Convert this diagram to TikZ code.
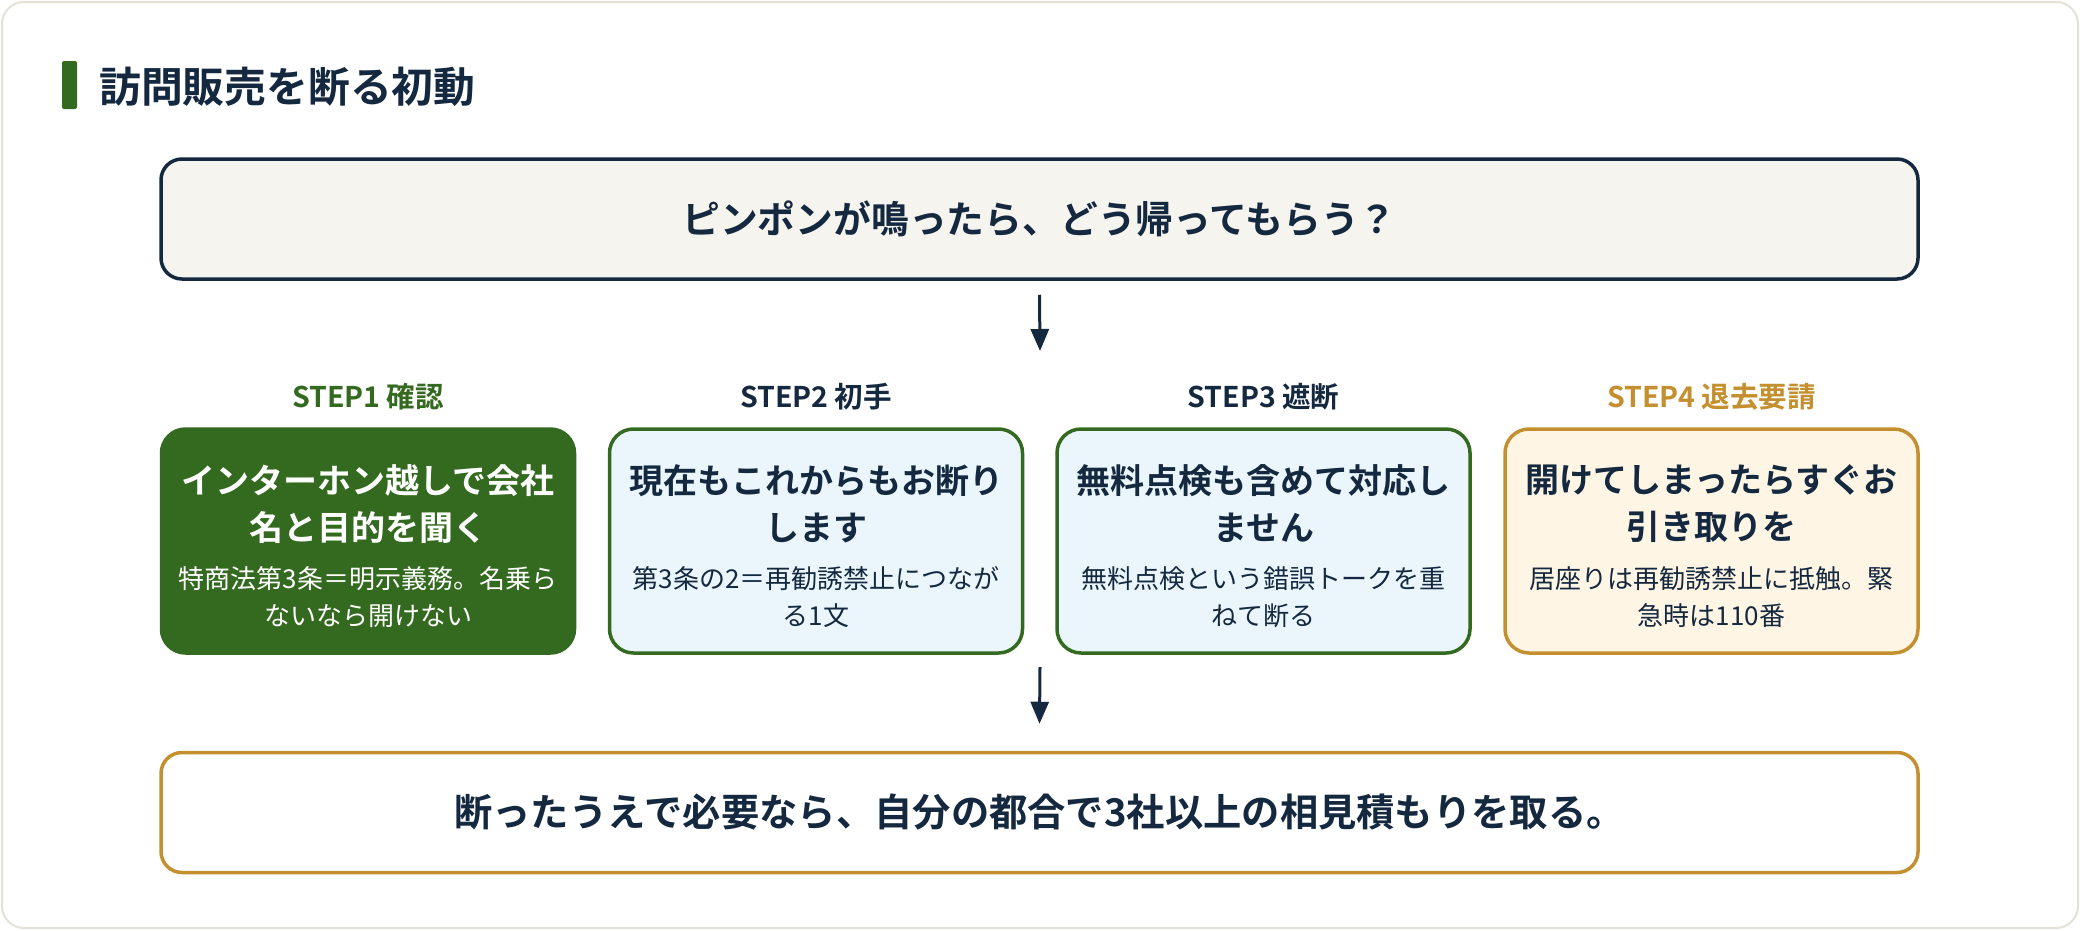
\documentclass[tikz,border=0pt]{standalone}
\usepackage{fontspec}
\setmainfont{Noto Sans CJK JP}[BoldFont={Noto Sans CJK JP Bold}]
\usetikzlibrary{arrows.meta}
\definecolor{navy}{HTML}{14283F}
\definecolor{dgreen}{HTML}{346A1F}
\definecolor{gold}{HTML}{C4902F}
\definecolor{lblue}{HTML}{EAF6FB}
\definecolor{cream}{HTML}{FEF5E4}
\definecolor{topfill}{HTML}{F5F4EF}
\definecolor{outerc}{HTML}{E4E2D6}
\tikzset{
  stepbox/.style={rounded corners=24pt, line width=3.5pt, minimum width=413pt, minimum height=224pt, inner sep=0pt},
  wide/.style={rounded corners=21pt, line width=3.5pt, minimum width=1757pt, minimum height=120pt, inner sep=0pt},
  maintxt/.style={align=center, font=\fontsize{34}{47}\selectfont\bfseries, inner sep=0pt},
  subtxt/.style={align=center, font=\fontsize{26}{37}\selectfont, inner sep=0pt},
  steplbl/.style={font=\fontsize{28.5}{32}\selectfont\bfseries, inner sep=0pt},
  arr/.style={draw=navy, line width=3pt, -{Triangle[length=22pt,width=18pt]}, fill=navy}
}
\begin{document}
\begin{tikzpicture}[x=1pt,y=-1pt]
\useasboundingbox (0,0) rectangle (2080,930);
\draw[draw=outerc, line width=2pt, rounded corners=22pt, fill=white] (2,2) rectangle (2078,928);
\fill[dgreen, rounded corners=2pt] (62,61) rectangle (77,109);
\node[anchor=west, inner sep=0pt, font=\fontsize{41.8}{48}\selectfont\bfseries, text=navy] (title) at (99,87) {訪問販売を断る初動};

\node[wide, draw=navy, fill=topfill, font=\fontsize{37.8}{44}\selectfont\bfseries, text=navy] (q) at (1039.5,219) {ピンポンが鳴ったら、どう帰ってもらう？};

\coordinate (a1e) at (1040,351);
\draw[arr] ([yshift=-14pt]q.south) -- (a1e);

\node[steplbl, text=dgreen] (l1) at (368,397) {STEP1 確認};
\node[steplbl, text=navy] (l2) at (816,397) {STEP2 初手};
\node[steplbl, text=navy] (l3) at (1263.5,397) {STEP3 遮断};
\node[steplbl, text=gold] (l4) at (1711.5,397) {STEP4 退去要請};

\node[stepbox, draw=dgreen, fill=dgreen] (b1) at (368,541) {};
\node[stepbox, draw=dgreen, fill=lblue] (b2) at (816,541) {};
\node[stepbox, draw=dgreen, fill=lblue] (b3) at (1263.5,541) {};
\node[stepbox, draw=gold, fill=cream] (b4) at (1711.5,541) {};

\node[maintxt, text=white] (m1) at (368,504) {インターホン越しで会社\\名と目的を聞く};
\node[subtxt, text=white] (s1) at (368,597) {特商法第3条＝明示義務。名乗ら\\ないなら開けない};
\node[maintxt, text=navy] (m2) at (816,504) {現在もこれからもお断り\\します};
\node[subtxt, text=navy] (s2) at (816,597) {第3条の2＝再勧誘禁止につなが\\る1文};
\node[maintxt, text=navy] (m3) at (1263.5,504) {無料点検も含めて対応し\\ません};
\node[subtxt, text=navy] (s3) at (1263.5,597) {無料点検という錯誤トークを重\\ねて断る};
\node[maintxt, text=navy] (m4) at (1711.5,504) {開けてしまったらすぐお\\引き取りを};
\node[subtxt, text=navy] (s4) at (1711.5,597) {居座りは再勧誘禁止に抵触。緊\\急時は110番};

\coordinate (a2s) at (1040,667);
\node[wide, draw=gold, fill=white, font=\fontsize{38.3}{44}\selectfont\bfseries, text=navy] (r) at (1039.5,812.5) {断ったうえで必要なら、自分の都合で3社以上の相見積もりを取る。};
\draw[arr] (a2s) -- ([yshift=27pt]r.north);
\end{tikzpicture}
\end{document}
